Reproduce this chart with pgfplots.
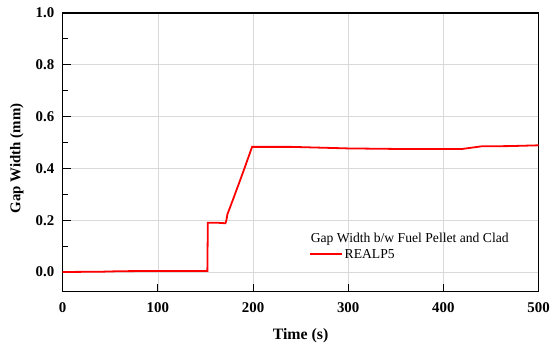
\documentclass[border=0pt]{standalone}
\usepackage{fontspec}
\setmainfont{Liberation Serif}
\usepackage{pgfplots}
\pgfplotsset{compat=1.18}
\begin{document}
\begin{tikzpicture}
\begin{axis}[
  at={(0,0)}, anchor=south west,
  scale only axis, width=478bp, height=280bp,
  xmin=0, xmax=500, ymin=-0.076, ymax=1.0,
  xtick={0,100,...,500}, ytick={0,0.2,...,1.0},
  minor ytick={0.1,0.3,0.5,0.7,0.9},
  yticklabel style={/pgf/number format/fixed,/pgf/number format/fixed zerofill,/pgf/number format/precision=1,xshift=-5bp},
  /pgf/number format/assume math mode=true,
  ticklabel style={font=\fontsize{15}{17}\selectfont\bfseries},
  xticklabel style={yshift=-7bp},
  tick align=inside, tick pos=left,
  major tick length=8bp, minor tick length=5bp,
  every tick/.style={black, line width=1bp},
  axis line style={line width=1.3bp},
  grid=major, major grid style={draw=gray!30, line width=0.6bp},
  xlabel={\fontsize{16}{18}\selectfont\bfseries Time (s)},
  ylabel={\fontsize{15}{17}\selectfont\bfseries Gap Width (mm)},
  xlabel style={at={(axis description cs:0.5,0)}, anchor=center, yshift=-44bp},
  ylabel style={at={(axis description cs:0,0.5)}, anchor=center, yshift=46bp, xshift=-6bp},
  legend style={draw=none, fill=none, at={(0.511,0.100)}, anchor=south west,
    font=\fontsize{13.75}{15}\selectfont, row sep=1bp},
  legend cell align=left,
  legend image code/.code={\draw[#1] (0bp,0bp) -- (32bp,0bp);},
]
\addlegendimage{empty legend}
\addlegendentry{\hspace{-1.2cm}Gap Width b/w Fuel Pellet and Clad}
\addlegendimage{draw=red, line width=1.8bp}
\addlegendentry{REALP5}
\addplot[red, line width=1.8bp, forget plot] coordinates {
(0,0.000) (40,0.001) (60,0.003) (100,0.004) (130,0.004) (152,0.004)
(152.5,0.190) (163,0.190) (171,0.188) (172,0.200) (173,0.222)
(180,0.290) (190,0.390) (199,0.483) (240,0.483) (280,0.479) (300,0.477)
(350,0.475) (420,0.475) (440,0.485) (470,0.486) (500,0.489)
};
\end{axis}
\useasboundingbox (-63bp,-57bp) rectangle (490bp,293bp);
\end{tikzpicture}
\end{document}
